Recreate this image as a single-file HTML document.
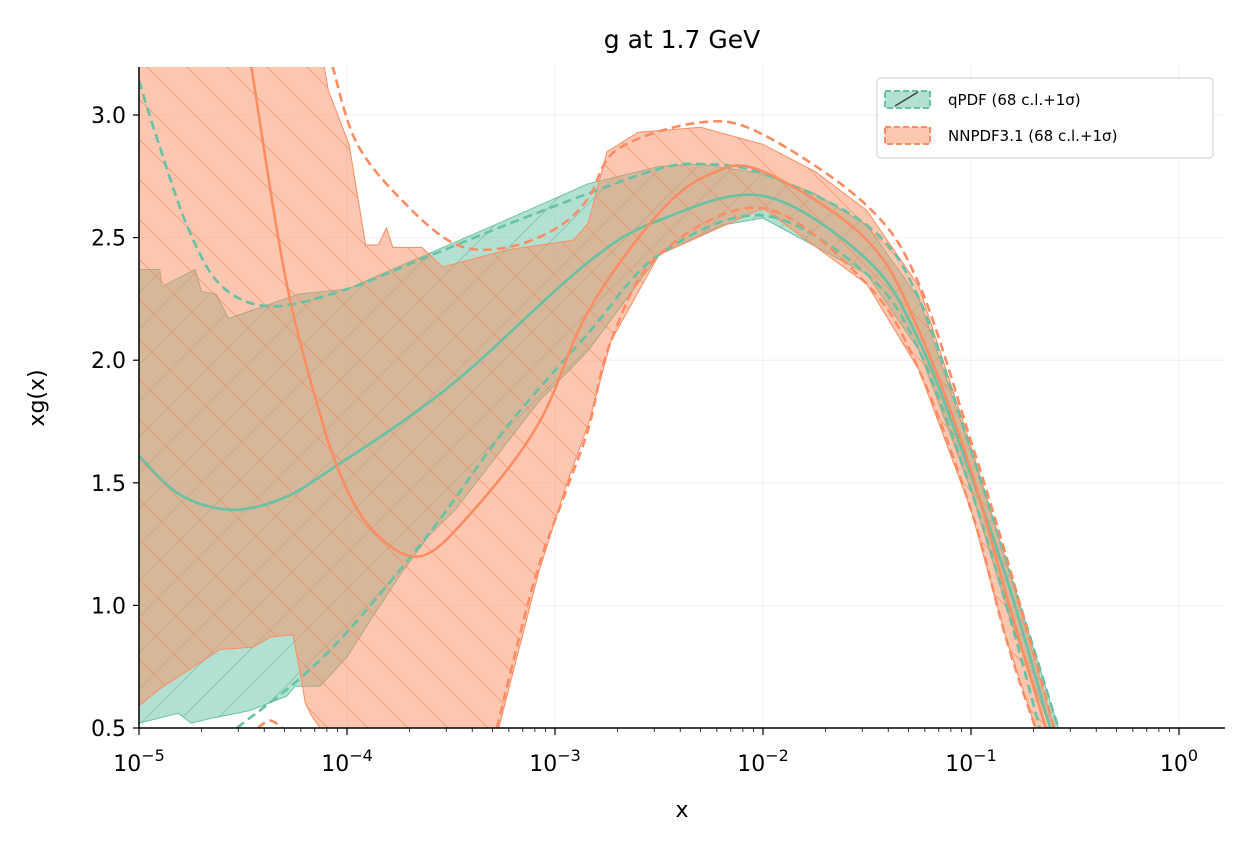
<!DOCTYPE html>
<html><head><meta charset="utf-8"><style>
body{margin:0;background:#fff}
svg{display:block;font-family:"DejaVu Sans","Liberation Sans",sans-serif}
</style></head><body>
<svg id="chart" width="1245" height="846">
<defs>
<pattern id="hg" width="36" height="36" patternUnits="userSpaceOnUse"><path d="M0,36 L36,0 M-9,9 L9,-9 M27,45 L45,27" stroke="#4f9a82" stroke-opacity="0.35" stroke-width="1.1"/></pattern>
<pattern id="ho" width="40" height="40" patternUnits="userSpaceOnUse"><path d="M0,0 L40,40 M-10,30 L10,50 M30,-10 L50,10" stroke="#f08a60" stroke-opacity="0.6" stroke-width="1.1"/></pattern>
<clipPath id="pc"><rect x="139" y="67" width="1086" height="661"/></clipPath>
</defs>
<g id="grid"></g>
<g id="bands" clip-path="url(#pc)"></g>
<g id="lines" clip-path="url(#pc)"></g>
<g id="axes"></g>
<text x="682" y="48" text-anchor="middle" font-size="25">g at 1.7 GeV</text>
<text x="682" y="817" text-anchor="middle" font-size="22">x</text>
<text transform="translate(44,398) rotate(-90)" text-anchor="middle" font-size="22">xg(x)</text>
<g>
<rect x="877" y="78" width="336" height="80" rx="4" fill="#fff" fill-opacity="0.85" stroke="#ccc"/>
<rect x="885" y="91" width="45" height="17" fill="#66c2a5" fill-opacity="0.5" stroke="#66c2a5" stroke-width="2" stroke-dasharray="6,3"/>
<path d="M895,106 L918,92" stroke="#444" stroke-width="1.5"/>
<text x="948" y="105" font-size="15">qPDF (68 c.l.+1σ)</text>
<rect x="885" y="127" width="45" height="17" fill="#fc8d62" fill-opacity="0.5" stroke="#fc8d62" stroke-width="2" stroke-dasharray="6,3"/>
<text x="948" y="141" font-size="15">NNPDF3.1 (68 c.l.+1σ)</text>
</g>
</svg>
<script>
// log10(x) positions and xg(x) values
const qCenX=[-5,-4.8,-4.55,-4.3,-4.05,-3.7,-3.4,-2.84,-2.5,-2,-1.5,-1.25,-1,-0.81,-0.62];
const qCenY=[1.61,1.45,1.39,1.44,1.57,1.77,1.97,2.4,2.57,2.67,2.41,2.08,1.53,1.06,0.5];
const qUpX=[-5,-4.904,-4.76,-4.6,-4.36,-4,-3.62,-3.24,-2.84,-2.5,-2.3,-2,-1.5,-1.25,-1,-0.8,-0.58];
const qUpY=[3.14,2.88,2.53,2.3,2.22,2.29,2.42,2.55,2.68,2.78,2.8,2.76,2.55,2.25,1.63,1.1,0.5];
const qLoX=[-4.53,-4.23,-3.98,-3.59,-3.23,-2.84,-2.5,-2,-1.5,-1.25,-1,-0.81,-0.67];
const qLoY=[0.5,0.7,0.91,1.31,1.73,2.11,2.43,2.59,2.35,2.04,1.47,0.94,0.5];
const qFillUpX=[-5,-4.9,-4.89,-4.73,-4.7,-4.63,-4.57,-4.23,-4,-3.62,-3.24,-2.84,-2.5,-2.3,-2,-1.75,-1.5,-1.25,-1,-0.8,-0.58];
const qFillUpY=[2.37,2.37,2.3,2.37,2.28,2.27,2.17,2.27,2.29,2.43,2.57,2.72,2.79,2.8,2.76,2.68,2.55,2.25,1.63,1.1,0.5];
const qFillLoX=[-5,-4.81,-4.75,-4.65,-4.47,-4.29,-4.25,-4.23,-4.13,-4.0,-3.88,-3.74,-3.61,-3.48,-3.08,-2.84,-2.5,-2.2,-2,-1.5,-1.25,-1,-0.81,-0.62];
const qFillLoY=[0.52,0.56,0.52,0.54,0.57,0.63,0.67,0.67,0.67,0.79,0.95,1.13,1.28,1.39,1.83,2.04,2.43,2.55,2.58,2.35,2.04,1.47,0.94,0.5];
const nCenX=[-4.46,-4.36,-4.28,-4.17,-4.04,-3.88,-3.65,-3.4,-3.08,-2.84,-2.5,-2.25,-2,-1.5,-1.25,-1,-0.81,-0.64];
const nCenY=[3.2,2.65,2.27,1.9,1.55,1.31,1.2,1.38,1.74,2.2,2.6,2.76,2.77,2.49,2.12,1.55,0.98,0.5];
const nUpX=[-4.07,-3.95,-3.71,-3.47,-3.23,-2.99,-2.84,-2.7,-2.3,-2,-1.5,-1.25,-1,-0.81,-0.6];
const nUpY=[3.2,2.88,2.63,2.47,2.46,2.54,2.66,2.86,2.97,2.92,2.63,2.31,1.67,1.14,0.5];
const nLoX=[-3.28,-3.1,-2.95,-2.84,-2.73,-2.5,-2,-1.5,-1.25,-1,-0.83,-0.69];
const nLoY=[0.5,1.1,1.46,1.72,2.08,2.43,2.62,2.31,1.96,1.39,0.86,0.5];
const nLo2X=[-4.43,-4.37,-4.31];
const nLo2Y=[0.5,0.53,0.5];
const nFillUpX=[-5,-4.13,-4.09,-3.99,-3.91,-3.85,-3.81,-3.78,-3.64,-3.54,-3.23,-2.91,-2.84,-2.75,-2.6,-2.3,-2,-1.75,-1.5,-1.25,-1,-0.81,-0.6];
const nFillUpY=[3.3,3.3,3.1,2.88,2.47,2.47,2.54,2.46,2.46,2.38,2.45,2.49,2.56,2.85,2.93,2.95,2.88,2.77,2.61,2.3,1.65,1.12,0.5];
const nFillLoX=[-5,-4.9,-4.61,-4.45,-4.37,-4.26,-4.22,-4.2,-4.17,-4.13,-3.27,-3.08,-2.95,-2.84,-2.73,-2.5,-2,-1.5,-1.25,-1,-0.83,-0.69];
const nFillLoY=[0.59,0.66,0.82,0.83,0.87,0.88,0.7,0.6,0.55,0.5,0.5,1.13,1.48,1.74,2.08,2.43,2.62,2.31,1.96,1.39,0.86,0.5];
const xTicks=[-5,-4,-3,-2,-1,0];
const yTicks=[0.5,1.0,1.5,2.0,2.5,3.0];

const X=v=>139+(v+5)*208;
const Y=v=>728-(v-0.5)*245.2;
const NS='http://www.w3.org/2000/svg';
function mk(t,a,p){const e=document.createElementNS(NS,t);for(const k in a)e.setAttribute(k,a[k]);p.appendChild(e);return e;}
function P(xs,ys){return xs.map((x,i)=>[X(x),Y(ys[i])]);}
function smooth(p){let d='M'+p[0][0].toFixed(1)+','+p[0][1].toFixed(1);
 for(let i=0;i<p.length-1;i++){const a=p[i-1]||p[i],b=p[i],c=p[i+1],e=p[i+2]||c;
  const c1=[b[0]+(c[0]-a[0])/6,b[1]+(c[1]-a[1])/6],c2=[c[0]-(e[0]-b[0])/6,c[1]-(e[1]-b[1])/6];
  d+='C'+c1.map(v=>v.toFixed(1))+' '+c2.map(v=>v.toFixed(1))+' '+c[0].toFixed(1)+','+c[1].toFixed(1);}
 return d;}
function lin(p){return p.map(q=>q[0].toFixed(1)+','+q[1].toFixed(1)).join('L');}
const bands=document.getElementById('bands'),lines=document.getElementById('lines'),axes=document.getElementById('axes'),grid=document.getElementById('grid');
function band(ux,uy,lx,ly,col,pat,name){
 const d='M'+lin(P(ux,uy))+'L'+lin(P(lx,ly).reverse())+'Z';
 const p=mk('path',{d:d,fill:col,'fill-opacity':0.5,stroke:col,'stroke-width':1,'stroke-linejoin':'round'},bands);
 
 
 const h=mk('path',{d:d,fill:'url(#'+pat+')'},bands);
 
 
}
function line(xs,ys,col,dash,name){
 const p=mk('path',{d:smooth(P(xs,ys)),fill:'none',stroke:col,'stroke-width':2.6,'stroke-dasharray':dash||'none','stroke-linejoin':'round'},lines);
 
 
}
yTicks.forEach(v=>mk('line',{x1:139,x2:1225,y1:Y(v),y2:Y(v),stroke:'#eee','stroke-width':0.8},grid));
xTicks.forEach(v=>mk('line',{x1:X(v),x2:X(v),y1:67,y2:728,stroke:'#eee','stroke-width':0.8},grid));
band(qFillUpX,qFillUpY,qFillLoX,qFillLoY,'#66c2a5','hg','qpdf-band');
band(nFillUpX,nFillUpY,nFillLoX,nFillLoY,'#fc8d62','ho','nnpdf-band');
const G='#66c2a5',O='#fc8d62';
line(qUpX,qUpY,G,'9,5','qpdf-upper');
line(qLoX,qLoY,G,'9,5','qpdf-lower');
line(nUpX,nUpY,O,'9,5','nnpdf-upper');
line(nLoX,nLoY,O,'9,5','nnpdf-lower');
line(nLo2X,nLo2Y,O,'9,5','nnpdf-lower-tail');
line(qCenX,qCenY,G,null,'qpdf-central');
line(nCenX,nCenY,O,null,'nnpdf-central');
mk('line',{x1:139,x2:139,y1:67,y2:728,stroke:'#000','stroke-width':1.5},axes);
mk('line',{x1:139,x2:1225,y1:728,y2:728,stroke:'#000','stroke-width':1.5},axes);
yTicks.forEach(v=>{mk('line',{x1:133,x2:139,y1:Y(v),y2:Y(v),stroke:'#000','stroke-width':1.2},axes);
 const t=mk('text',{x:126,y:Y(v)+8,'text-anchor':'end','font-size':22},axes);t.textContent=v.toFixed(1);
 
 });
xTicks.forEach(v=>{mk('line',{x1:X(v),x2:X(v),y1:728,y2:735,stroke:'#000','stroke-width':1.2},axes);
 const t=mk('text',{x:X(v),y:771,'text-anchor':'middle','font-size':22},axes);
 
 
 t.textContent='10';const s=mk('tspan',{dy:-10,'font-size':16},t);s.textContent=String(v<0?'\u2212'+(-v):v);
 if(v<0.2){for(let k=2;k<10;k++){const lx=v+Math.log10(k);if(X(lx)<1225)mk('line',{x1:X(lx),x2:X(lx),y1:728,y2:732,stroke:'#000','stroke-width':0.8},axes);}}
});
</script>
</body></html>
